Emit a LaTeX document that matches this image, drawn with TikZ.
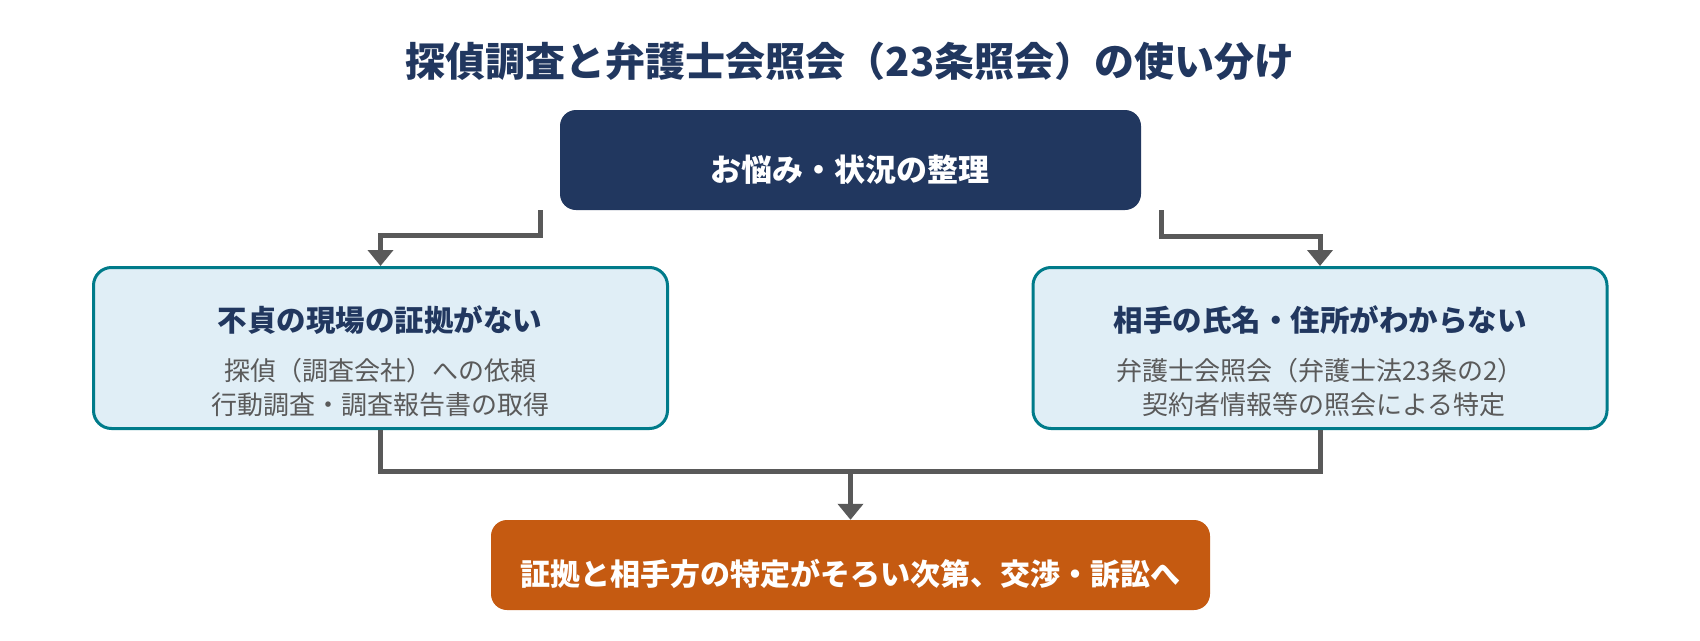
\documentclass[tikz,border=0pt]{standalone}
\usepackage{fontspec}
\setmainfont{Noto Sans CJK JP}
\usetikzlibrary{arrows.meta}
\definecolor{navy}{HTML}{21375F}
\definecolor{tealb}{HTML}{007B8A}
\definecolor{lightb}{HTML}{E0EEF6}
\definecolor{graytxt}{HTML}{5A5A5A}
\definecolor{linec}{HTML}{595959}
\definecolor{orangeb}{HTML}{C55A11}
\tikzset{
  topbox/.style={fill=navy, rounded corners=16pt, minimum width=581pt, minimum height=100pt, inner sep=0pt},
  sidebox/.style={fill=lightb, draw=tealb, line width=3pt, rounded corners=18pt, minimum width=574pt, minimum height=161pt, inner sep=0pt},
  endbox/.style={fill=orangeb, rounded corners=16pt, minimum width=719pt, minimum height=90pt, inner sep=0pt},
  titletxt/.style={font=\fontsize{40}{48}\selectfont\bfseries, text=navy, inner sep=0pt},
  whitetxt/.style={font=\fontsize{31}{37}\selectfont\bfseries, text=white, inner sep=0pt},
  headtxt/.style={font=\fontsize{29.5}{35}\selectfont\bfseries, text=navy, inner sep=0pt},
  subtxt/.style={font=\fontsize{26}{31}\selectfont, text=graytxt, inner sep=0pt},
  conn/.style={draw=linec, line width=5pt},
  connarrow/.style={conn, -{Triangle[width=25pt,length=16pt]}},
}
\begin{document}
\begin{tikzpicture}[x=1pt,y=-1pt]
\fill[white] (0,0) rectangle (1700,640);
\useasboundingbox (0,0) rectangle (1700,640);

\node[titletxt] (title) at (850,61.5) {探偵調査と弁護士会照会（23条照会）の使い分け};

\node[topbox] (top) at (850.5,160) {};
\node[whitetxt] (toptxt) at (850,170) {お悩み・状況の整理};

\node[sidebox] (left) at (380.5,348) {};
\node[headtxt] (lhead) at (380,320) {不貞の現場の証拠がない};
\node[subtxt] (lsubA) at (380,371) {探偵（調査会社）への依頼};
\node[subtxt] (lsubB) at (380,405) {行動調査・調査報告書の取得};

\node[sidebox] (right) at (1320,348) {};
\node[headtxt] (rhead) at (1320,320) {相手の氏名・住所がわからない};
\node[subtxt] (rsubA) at (1320,371) {弁護士会照会（弁護士法23条の2）};
\node[subtxt] (rsubB) at (1320,405) {\hspace*{0.3em}契約者情報等の照会による特定};

\node[endbox] (bottom) at (850.5,565) {};
\node[whitetxt, font=\fontsize{30}{36}\selectfont\bfseries] (bottxt) at (850,574) {証拠と相手方の特定がそろい次第、交渉・訴訟へ};

\coordinate (tl) at (540,210);
\coordinate (tr) at (1161,210);
\coordinate (j) at (850.5,471);

\draw[connarrow] (tl) -- ++(0,25) -| (left.north);
\draw[connarrow] (tr) -- ++(0,26) -| (right.north);
\draw[conn] (left.south) |- (j) -| (right.south);
\draw[connarrow] (j) -- (bottom.north);
\end{tikzpicture}
\end{document}
